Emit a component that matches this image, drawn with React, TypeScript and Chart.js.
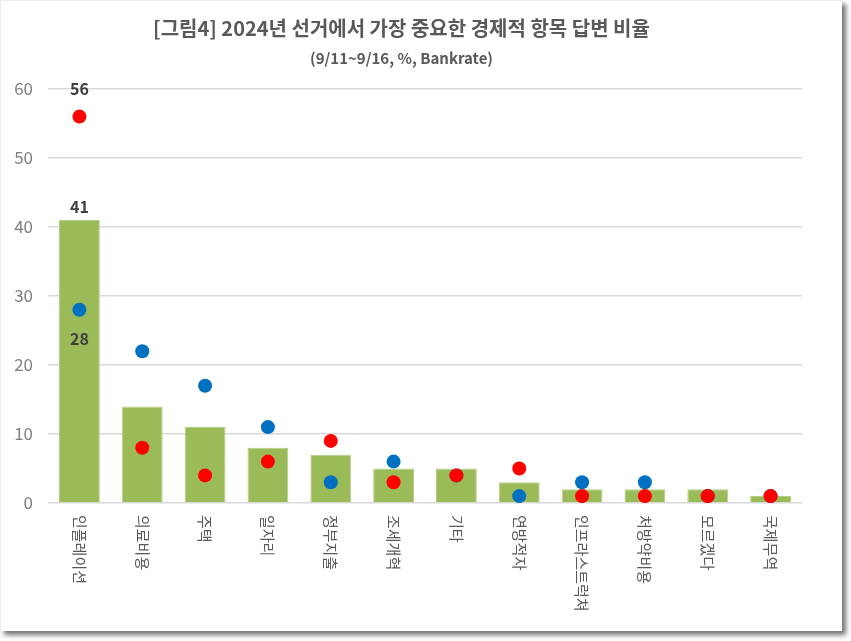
import { useRef, useEffect } from 'react';
import { Chart, registerables } from 'chart.js';

Chart.register(...registerables);

const categories = ['인플레이션', '의료비용', '주택', '일자리', '정부지출', '조세개혁', '기타', '연방적자', '인프라스트럭쳐', '처방약비용', '모르겠다', '국제무역'];
const totalValues = [41, 14, 11, 8, 7, 5, 5, 3, 2, 2, 2, 1];
const blueValues = [28, 22, 17, 11, 3, 6, 4, 1, 3, 3, 1, 1];
const redValues = [56, 8, 4, 6, 9, 3, 4, 5, 1, 1, 1, 1];
const yTicks = [0, 10, 20, 30, 40, 50, 60];

const FONT = '"Noto Sans CJK KR", "Noto Sans", sans-serif';

const labelPlugin = {
  id: 'customLabels',
  afterDatasetsDraw(chart: Chart) {
    const { ctx, chartArea } = chart;
    const x = chart.scales.x;
    ctx.save();
    // rotated category labels, reading top to bottom
    ctx.fillStyle = '#595959';
    ctx.font = `15px ${FONT}`;
    ctx.textAlign = 'left';
    ctx.textBaseline = 'middle';
    categories.forEach((c, i) => {
      const px = x.getPixelForTick(i);
      ctx.save();
      ctx.translate(px, chartArea.bottom + 12);
      ctx.rotate(Math.PI / 2);
      ctx.fillText(c, 0, 0);
      ctx.restore();
    });
    // value labels for the first category
    ctx.fillStyle = '#404040';
    ctx.font = `bold 16px ${FONT}`;
    ctx.textAlign = 'center';
    const bar = chart.getDatasetMeta(0).data[0];
    const blue = chart.getDatasetMeta(1).data[0];
    const red = chart.getDatasetMeta(2).data[0];
    ctx.fillText(String(totalValues[0]), bar.x, bar.y - 13);
    ctx.fillText(String(blueValues[0]), blue.x, blue.y + 29);
    ctx.fillText(String(redValues[0]), red.x, red.y - 28);
    ctx.restore();
  },
};

function ElectionChart() {
  const canvasRef = useRef<HTMLCanvasElement>(null);
  const chartRef = useRef<Chart | null>(null);

  useEffect(() => {
    if (!canvasRef.current) return;
    if (chartRef.current) chartRef.current.destroy();

    chartRef.current = new Chart(canvasRef.current, {
      type: 'bar',
      data: {
        labels: categories,
        datasets: [
          {
            label: '전체',
            data: totalValues,
            backgroundColor: '#9BBB59',
            borderColor: '#B5CE86',
            borderWidth: 1,
            categoryPercentage: 1,
            barPercentage: 0.65,
            order: 3,
          },
          {
            type: 'line',
            label: 'blue',
            data: blueValues,
            showLine: false,
            pointRadius: 7,
            pointBackgroundColor: '#0070C0',
            pointBorderWidth: 0,
            order: 2,
          } as any,
          {
            type: 'line',
            label: 'red',
            data: redValues,
            showLine: false,
            pointRadius: 7,
            pointBackgroundColor: '#FF0000',
            pointBorderWidth: 0,
            order: 1,
          } as any,
        ],
      },
      options: {
        responsive: true,
        maintainAspectRatio: false,
        animation: false,
        layout: { padding: { left: 0, right: 40, top: 0, bottom: 0 } },
        plugins: {
          legend: { display: false },
          tooltip: { enabled: false },
          title: {
            display: true,
            text: '[그림4] 2024년 선거에서 가장 중요한 경제적 항목 답변 비율',
            color: '#595959',
            font: { family: FONT, size: 20, weight: 'bold' },
            padding: { top: 15, bottom: 0 },
          },
          subtitle: {
            display: true,
            text: '(9/11~9/16, %, Bankrate)',
            color: '#595959',
            font: { family: FONT, size: 15, weight: 'bold' },
            padding: { top: 9, bottom: 22 },
          },
        },
        scales: {
          x: {
            grid: { display: false },
            border: { display: false },
            ticks: { display: false },
            afterFit: (scale: any) => { scale.height = 128; },
          },
          y: {
            min: 0,
            max: 60,
            afterBuildTicks: (scale: any) => { scale.ticks = yTicks.map(v => ({ value: v })); },
            ticks: { color: '#7F7F7F', font: { family: FONT, size: 17 }, padding: 15 },
            grid: { color: '#D9D9D9', lineWidth: 1.5, drawTicks: false },
            border: { display: false },
            afterFit: (scale: any) => { scale.width = 47; },
          },
        },
      },
      plugins: [labelPlugin],
    });

    return () => {
      if (chartRef.current) { chartRef.current.destroy(); chartRef.current = null; }
    };
  }, []);

  return (
    <div style={{ position: 'fixed', left: 0, top: 0, width: 851, height: 641, background: '#fff' }}>
      <div style={{
        position: 'absolute', left: 0, top: 0, width: 841, height: 630,
        borderLeft: '1px solid #ececec', borderTop: '1px solid #ececec',
        background: '#fff', boxShadow: '4px 4px 5px rgba(0,0,0,0.55)',
      }}>
        <canvas ref={canvasRef} />
      </div>
    </div>
  );
}

export default function App() {
  return <ElectionChart />;
}
